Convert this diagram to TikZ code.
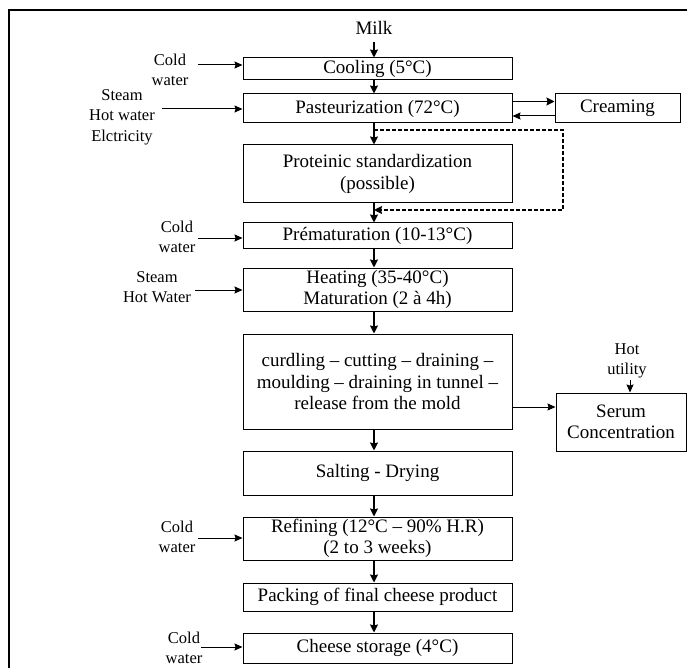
\documentclass[tikz,border=0pt]{standalone}
\usepackage{fontspec}
\setmainfont{Liberation Serif}
\usetikzlibrary{arrows.meta}
\begin{document}
\begin{tikzpicture}[x=1pt,y=-1pt,
  box/.style={draw,line width=1pt,inner sep=0pt,align=center,font=\fontsize{19}{21.5}\selectfont,minimum width=269pt},
  side/.style={inner sep=0pt,align=center,font=\fontsize{16.5}{20.5}\selectfont},
  main/.style={line width=1.7pt,-{Stealth[length=8pt,width=8pt,inset=1pt]}},
  feed/.style={line width=1pt,-{Stealth[length=8pt,width=7pt,inset=1pt]}},
  dashline/.style={line width=1.5pt,dash pattern=on 4pt off 2pt,-{Stealth[length=8pt,width=8pt,inset=1pt]}}]
\useasboundingbox (0,0) rectangle (687,668);
\draw[line width=1.2pt] (687,10) -- (9,10) -- (9,668);
\coordinate (mx) at (374,0);
% main column
\node[box,minimum height=22pt] (cool) at (377.5,69) {Cooling (5°C)};
\node[box,minimum height=29pt] (past) at (377.5,108.5) {Pasteurization (72°C)};
\node[box,minimum height=58pt] (prot) at (377.5,174) {Proteinic standardization\\(possible)};
\node[box,minimum height=25pt] (prem) at (377.5,235.5) {Prématuration (10-13°C)};
\node[box,minimum height=43pt] (heat) at (377.5,289.5) {Heating (35-40°C)\\Maturation (2 à 4h)};
\node[box,minimum height=95pt] (curd) at (377.5,381.5) {curdling – cutting – draining –\\moulding – draining in tunnel –\\release from the mold};
\node[box,minimum height=44pt] (salt) at (377.5,473) {Salting - Drying};
\node[box,minimum height=43pt] (refi) at (377.5,538.5) {Refining (12°C – 90\% H.R)\\(2 to 3 weeks)};
\node[box,minimum height=28pt] (pack) at (377.5,597) {Packing of final cheese product};
\node[box,minimum height=30pt] (stor) at (377.5,648) {Cheese storage (4°C)};
\node[box,minimum width=125pt,minimum height=29pt] (crea) at (617.5,108.5) {Creaming};
\node[box,minimum width=130pt,minimum height=58pt] (seru) at (621,422) {Serum\\Concentration};
% top and side labels
\node[inner sep=0pt,font=\fontsize{19}{21}\selectfont] (milk) at (374,28) {Milk};
\node[side] (cw1) at (170,70) {Cold\\water};
\node[side] (stm1) at (122,117) {Steam\\Hot water\\Elctricity};
\node[side] (cw2) at (177,237) {Cold\\water};
\node[side] (stm2) at (157,287) {Steam\\Hot Water};
\node[side] (cw3) at (177,537) {Cold\\water};
\node[side] (cw4) at (184,648) {Cold\\water};
\node[side] (hot) at (627,361) {Hot\\utility};
\coordinate (a1) at (198,65);
\coordinate (a2) at (162,109);
\coordinate (a3) at (198,238);
\coordinate (a4) at (195,290);
\coordinate (a5) at (198,538);
\coordinate (a6) at (201,647);
% main arrows
\draw[main] (milk.south |- 0,42) -- (cool.north -| mx);
\draw[main] (cool.south -| mx) -- (past.north -| mx);
\draw[main] (past.south -| mx) -- (prot.north -| mx);
\draw[main] (prot.south -| mx) -- (prem.north -| mx);
\draw[main] (prem.south -| mx) -- (heat.north -| mx);
\draw[main] (heat.south -| mx) -- (curd.north -| mx);
\draw[main] (curd.south -| mx) -- (salt.north -| mx);
\draw[main] (salt.south -| mx) -- (refi.north -| mx);
\draw[main] (refi.south -| mx) -- (pack.north -| mx);
\draw[main] (pack.south -| mx) -- (stor.north -| mx);
% side feeds
\draw[feed] (a1) -- (a1 -| cool.west);
\draw[feed] (a2) -- (a2 -| past.west);
\draw[feed] (a3) -- (a3 -| prem.west);
\draw[feed] (a4) -- (a4 -| heat.west);
\draw[feed] (a5) -- (a5 -| refi.west);
\draw[feed] (a6) -- (a6 -| stor.west);
% creaming loop
\coordinate (c1) at (0,101.5);
\coordinate (c2) at (0,116);
\draw[main,line width=1.9pt] (past.east |- c1) -- (crea.west |- c1);
\draw[feed] (crea.west |- c2) -- (past.east |- c2);
% dashed bypass
\coordinate (d1) at (374,130);
\coordinate (d2) at (563,210);
\draw[dashline] (d1) -- (d1 -| d2) -- (d2) -- (d2 -| mx);
% serum
\coordinate (s1) at (0,407);
\draw[feed] (curd.east |- s1) -- (seru.west |- s1);
\draw[feed] (630,380) -- (seru.north -| 630,0);
\end{tikzpicture}
\end{document}
